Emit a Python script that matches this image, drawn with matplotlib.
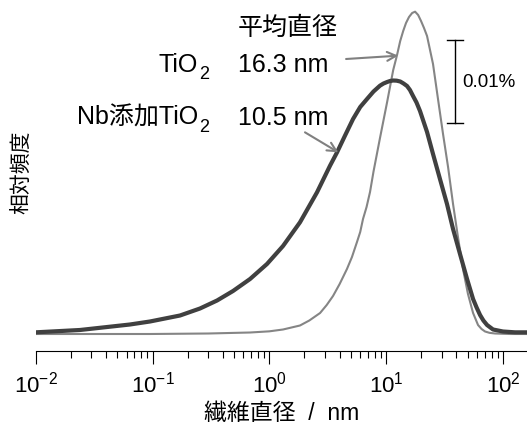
import numpy as np
import matplotlib
matplotlib.use('Agg')
from matplotlib import pyplot as plt

plt.rcParams['font.family'] = ['Liberation Sans', 'Noto Sans CJK JP', 'DejaVu Sans']
plt.rcParams['axes.unicode_minus'] = False

# 繊維直径 (nm) と相対頻度 (%) -- 図から読み取り
tio2_d = [0.01, 0.0951, 0.3, 0.684, 1.0, 1.31, 1.83, 2.2, 2.72, 3.1, 3.51, 4.0,
          4.62, 5.1, 5.63, 6.0, 6.34, 6.8, 7.28, 7.8, 8.86, 10.2, 11.5, 12.4,
          13.2, 14.0, 14.8, 15.7, 16.7, 17.7, 18.8, 19.9, 21.1, 22.4, 25.2,
          27.8, 30.7, 33.9, 37.4, 41.2, 45.5, 50.2, 55.5, 61.2, 65.6, 70.3,
          76.7, 85.5, 115, 161]
tio2_f = [0.0, 0.0, 0.00006, 0.00018, 0.00032, 0.00054, 0.00102, 0.00162, 0.00252,
          0.00348, 0.00456, 0.00600, 0.00780, 0.00924, 0.01104, 0.01224, 0.01380,
          0.01524, 0.01704, 0.01950, 0.02352, 0.02784, 0.03168, 0.03348, 0.03516,
          0.03636, 0.03732, 0.03804, 0.03852, 0.03868, 0.03828, 0.03756, 0.03672,
          0.03576, 0.03240, 0.02820, 0.02400, 0.02004, 0.01560, 0.01164, 0.00780,
          0.00480, 0.00252, 0.00108, 0.00060, 0.00030, 0.00014, 0.00006, 0.0, 0.0]

nb_d = [0.01, 0.0239, 0.0641, 0.0951, 0.172, 0.255, 0.357, 0.489, 0.684, 0.955,
        1.31, 1.83, 2.56, 3.31, 3.80, 4.45, 5.21, 6.0, 6.86, 7.8, 8.86, 9.5,
        10.2, 10.8, 11.5, 12.3, 13.2, 14.1, 15.1, 16.0, 17.0, 18.2, 19.5, 22.4,
        25.2, 28.9, 33.2, 37.4, 42.9, 49.3, 55.5, 59.5, 63.7, 68.0, 73.1, 82.3,
        100, 127, 161]
nb_f = [0.00020, 0.00048, 0.00114, 0.00150, 0.00222, 0.00306, 0.00402, 0.00516,
        0.00660, 0.00840, 0.01056, 0.01340, 0.01700, 0.02020, 0.02180, 0.02382,
        0.02580, 0.02724, 0.02820, 0.02910, 0.02980, 0.03006, 0.03024, 0.03036,
        0.03042, 0.03040, 0.03030, 0.03006, 0.02976, 0.02928, 0.02856, 0.02778,
        0.02676, 0.02424, 0.02160, 0.01860, 0.01560, 0.01260, 0.00960, 0.00660,
        0.00420, 0.00318, 0.00228, 0.00162, 0.00108, 0.00054, 0.00030, 0.00020,
        0.00020]

W, H = 527, 427
fig = plt.figure(figsize=(W / 100, H / 100), dpi=100)
ax = fig.add_axes([35.7 / W, 75 / H, 1 - 35.7 / W, 352 / H])

ax.plot(tio2_d, tio2_f, color='#858585', lw=1.5)
ax.plot(nb_d, nb_f, color='#404040', lw=3)

ax.set_xscale('log')
ax.set_xlim(0.01, 10 ** 2.206)
ax.set_ylim(-0.00204, 0.0402)

for s in ['top', 'right', 'left']:
    ax.spines[s].set_visible(False)
ax.spines['bottom'].set_linewidth(0.8)
ax.set_yticks([])
ax.tick_params(axis='x', which='major', length=9, width=0.8, labelsize=16, pad=5)
ax.tick_params(axis='x', which='minor', length=5, width=0.8)

ax.set_xlabel('繊維直径  /  nm', fontsize=16.5, labelpad=3)
fig.text(21 / W, 1 - 172 / H, '相対頻度', rotation=90, ha='center', va='center', fontsize=15)

# 注釈
ax.text(0.541, 0.03684, '平均直径', fontsize=18, ha='left', va='center')
ax.text(0.541, 0.03156, '16.3 nm', fontsize=18, ha='left', va='baseline')
ax.text(0.541, 0.0252, '10.5 nm', fontsize=18, ha='left', va='baseline')
ax.text(0.2453, 0.03156, 'TiO', fontsize=18, ha='right', va='baseline')
ax.text(0.249, 0.0307, '2', fontsize=13, ha='left', va='baseline')
ax.text(0.2453, 0.0252, 'Nb添加TiO', fontsize=18, ha='right', va='baseline')
ax.text(0.249, 0.02436, '2', fontsize=13, ha='left', va='baseline')

arrow = dict(arrowstyle='->', color='#808080', lw=1.5, shrinkA=0, shrinkB=0, mutation_scale=16)
ax.annotate('', xy=(12.7, 0.0334), xytext=(4.54, 0.0330), arrowprops=arrow)
ax.annotate('', xy=(3.90, 0.0218), xytext=(2.02, 0.0242), arrowprops=arrow)

# スケールバー 0.01%
ax.plot([38.9, 38.9], [0.02532, 0.03532], color='black', lw=1)
ax.plot([33.0, 45.8], [0.02532, 0.02532], color='black', lw=1)
ax.plot([33.0, 45.8], [0.03532, 0.03532], color='black', lw=1)
ax.text(44.7, 0.0303, '0.01%', fontsize=13.5, ha='left', va='center')

fig.savefig('out.png', dpi=100)
